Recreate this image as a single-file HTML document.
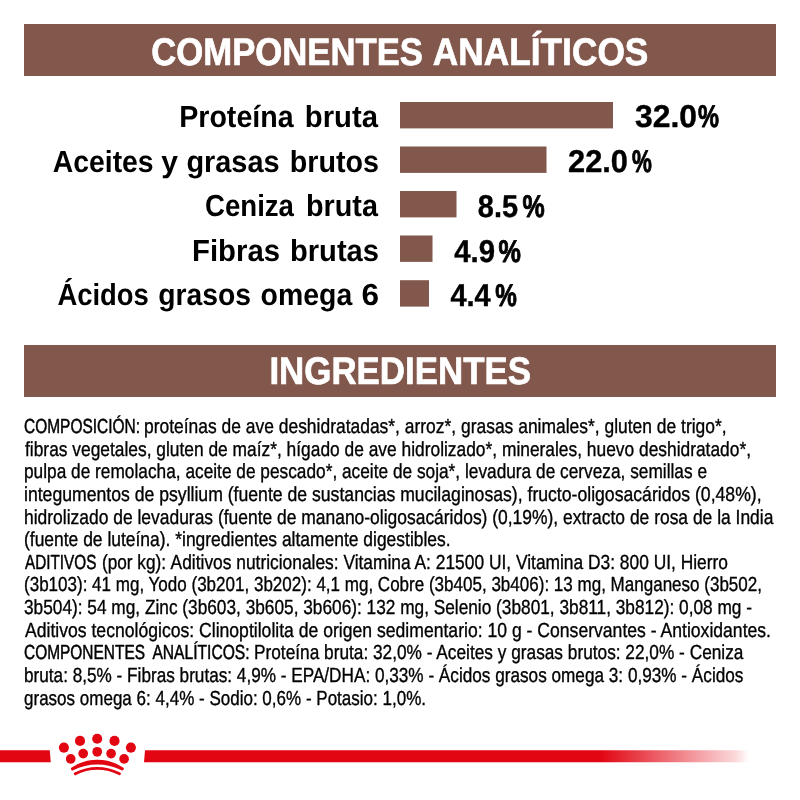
<!DOCTYPE html>
<html lang="es"><head><meta charset="utf-8"><title>Componentes analíticos</title>
<style>html,body{margin:0;padding:0;background:#fff;}body{width:800px;height:800px;overflow:hidden;font-family:"Liberation Sans",sans-serif;}svg{display:block;}text{text-rendering:geometricPrecision;}text{font-family:"Liberation Sans",sans-serif;}</style></head><body>
<svg width="800" height="800" viewBox="0 0 800 800">
<defs><filter id="noaa" x="0" y="0" width="800" height="800" filterUnits="userSpaceOnUse" color-interpolation-filters="sRGB"><feOffset dx="0" dy="0"/></filter><linearGradient id="fade" gradientUnits="userSpaceOnUse" x1="601" y1="0" x2="749" y2="0"><stop offset="0" stop-color="#e20613"/><stop offset="0.91" stop-color="#e20613" stop-opacity="0.15"/><stop offset="1" stop-color="#e20613" stop-opacity="0"/></linearGradient></defs>
<rect x="0" y="0" width="800" height="800" fill="#fff"/>
<rect x="24" y="24" width="752" height="52" fill="#82574c"/>
<rect x="24" y="345" width="752" height="52" fill="#82574c"/>
<rect x="400" y="102" width="213" height="26.4" fill="#82574c"/>
<rect x="400" y="146.5" width="146.5" height="26.4" fill="#82574c"/>
<rect x="400" y="191" width="56.5" height="26.4" fill="#82574c"/>
<rect x="400" y="235.5" width="32.5" height="26.4" fill="#82574c"/>
<rect x="400" y="280.2" width="29" height="26.4" fill="#82574c"/>
<g id="texts" filter="url(#noaa)">
<text id="h1a" x="151.20" y="64.70" font-size="38.5" font-weight="bold" fill="#fff" stroke="#fff" stroke-width="0.7" stroke-linejoin="round" textLength="271.82" lengthAdjust="spacingAndGlyphs">COMPONENTES</text>
<text id="h1b" x="432.79" y="64.70" font-size="38.5" font-weight="bold" fill="#fff" stroke="#fff" stroke-width="0.7" stroke-linejoin="round" textLength="215.61" lengthAdjust="spacingAndGlyphs">ANALÍTICOS</text>
<text id="h2" x="269.39" y="384.40" font-size="38.5" font-weight="bold" fill="#fff" stroke="#fff" stroke-width="0.7" stroke-linejoin="round" textLength="261.61" lengthAdjust="spacingAndGlyphs">INGREDIENTES</text>
<text id="l0_0" x="179.19" y="127.00" font-size="30.5" font-weight="bold" fill="#000" textLength="114.41" lengthAdjust="spacingAndGlyphs">Proteína</text>
<text id="l0_1" x="304.77" y="127.00" font-size="30.5" font-weight="bold" fill="#000" textLength="73.22" lengthAdjust="spacingAndGlyphs">bruta</text>
<text id="l1_0" x="52.78" y="171.60" font-size="30.5" font-weight="bold" fill="#000" textLength="100.84" lengthAdjust="spacingAndGlyphs">Aceites</text>
<text id="l1_1" x="161.36" y="171.60" font-size="30.5" font-weight="bold" fill="#000" textLength="16.71" lengthAdjust="spacingAndGlyphs">y</text>
<text id="l1_2" x="186.39" y="171.60" font-size="30.5" font-weight="bold" fill="#000" textLength="93.24" lengthAdjust="spacingAndGlyphs">grasas</text>
<text id="l1_3" x="289.75" y="171.60" font-size="30.5" font-weight="bold" fill="#000" textLength="89.25" lengthAdjust="spacingAndGlyphs">brutos</text>
<text id="l2_0" x="204.99" y="216.20" font-size="30.5" font-weight="bold" fill="#000" textLength="89.00" lengthAdjust="spacingAndGlyphs">Ceniza</text>
<text id="l2_1" x="305.98" y="216.20" font-size="30.5" font-weight="bold" fill="#000" textLength="72.01" lengthAdjust="spacingAndGlyphs">bruta</text>
<text id="l3_0" x="191.97" y="260.75" font-size="30.5" font-weight="bold" fill="#000" textLength="88.05" lengthAdjust="spacingAndGlyphs">Fibras</text>
<text id="l3_1" x="289.96" y="260.75" font-size="30.5" font-weight="bold" fill="#000" textLength="89.05" lengthAdjust="spacingAndGlyphs">brutas</text>
<text id="l4_0" x="57.39" y="305.30" font-size="30.5" font-weight="bold" fill="#000" textLength="91.44" lengthAdjust="spacingAndGlyphs">Ácidos</text>
<text id="l4_1" x="158.16" y="305.30" font-size="30.5" font-weight="bold" fill="#000" textLength="92.85" lengthAdjust="spacingAndGlyphs">grasos</text>
<text id="l4_2" x="260.60" y="305.30" font-size="30.5" font-weight="bold" fill="#000" textLength="91.60" lengthAdjust="spacingAndGlyphs">omega</text>
<text id="l4_3" x="361.52" y="305.30" font-size="30.5" font-weight="bold" fill="#000" textLength="17.57" lengthAdjust="spacingAndGlyphs">6</text>
<text id="v0_0" x="635.00" y="127.40" font-size="31.5" font-weight="bold" fill="#000" stroke="#000" stroke-width="0.4" stroke-linejoin="round" textLength="62.03" lengthAdjust="spacingAndGlyphs">32.0</text>
<text id="v0_1" x="698.00" y="127.40" font-size="31.5" font-weight="bold" fill="#000" stroke="#000" stroke-width="0.9" stroke-linejoin="round" textLength="21.00" lengthAdjust="spacingAndGlyphs">%</text>
<text id="v1_0" x="567.99" y="172.20" font-size="31.5" font-weight="bold" fill="#000" stroke="#000" stroke-width="0.4" stroke-linejoin="round" textLength="60.02" lengthAdjust="spacingAndGlyphs">22.0</text>
<text id="v1_1" x="631.96" y="172.20" font-size="31.5" font-weight="bold" fill="#000" stroke="#000" stroke-width="0.9" stroke-linejoin="round" textLength="19.86" lengthAdjust="spacingAndGlyphs">%</text>
<text id="v2_0" x="477.80" y="216.90" font-size="31.5" font-weight="bold" fill="#000" stroke="#000" stroke-width="0.4" stroke-linejoin="round" textLength="40.20" lengthAdjust="spacingAndGlyphs">8.5</text>
<text id="v2_1" x="522.40" y="216.90" font-size="31.5" font-weight="bold" fill="#000" stroke="#000" stroke-width="0.9" stroke-linejoin="round" textLength="22.21" lengthAdjust="spacingAndGlyphs">%</text>
<text id="v3_0" x="454.19" y="261.50" font-size="31.5" font-weight="bold" fill="#000" stroke="#000" stroke-width="0.4" stroke-linejoin="round" textLength="40.83" lengthAdjust="spacingAndGlyphs">4.9</text>
<text id="v3_1" x="498.60" y="261.50" font-size="31.5" font-weight="bold" fill="#000" stroke="#000" stroke-width="0.9" stroke-linejoin="round" textLength="22.40" lengthAdjust="spacingAndGlyphs">%</text>
<text id="v4_0" x="450.39" y="306.00" font-size="31.5" font-weight="bold" fill="#000" stroke="#000" stroke-width="0.4" stroke-linejoin="round" textLength="40.42" lengthAdjust="spacingAndGlyphs">4.4</text>
<text id="v4_1" x="495.20" y="306.00" font-size="31.5" font-weight="bold" fill="#000" stroke="#000" stroke-width="0.9" stroke-linejoin="round" textLength="21.60" lengthAdjust="spacingAndGlyphs">%</text>
<text id="p0_0" x="23.99" y="432.90" font-size="20.3" font-weight="normal" fill="#000" stroke="#000" stroke-width="0.5" stroke-linejoin="round" textLength="116.03" lengthAdjust="spacingAndGlyphs">COMPOSICIÓN:</text>
<text id="p0_1" x="144.00" y="432.90" font-size="20.3" font-weight="normal" fill="#000" stroke="#000" stroke-width="0.35" stroke-linejoin="round" textLength="582.61" lengthAdjust="spacingAndGlyphs">proteínas de ave deshidratadas*, arroz*, grasas animales*, gluten de trigo*,</text>
<text id="p1_0" x="25.00" y="455.55" font-size="20.3" font-weight="normal" fill="#000" stroke="#000" stroke-width="0.35" stroke-linejoin="round" textLength="726.00" lengthAdjust="spacingAndGlyphs">fibras vegetales, gluten de maíz*, hígado de ave hidrolizado*, minerales, huevo deshidratado*,</text>
<text id="p2_0" x="24.00" y="478.20" font-size="20.3" font-weight="normal" fill="#000" stroke="#000" stroke-width="0.35" stroke-linejoin="round" textLength="683.00" lengthAdjust="spacingAndGlyphs">pulpa de remolacha, aceite de pescado*, aceite de soja*, levadura de cerveza, semillas e</text>
<text id="p3_0" x="24.00" y="500.85" font-size="20.3" font-weight="normal" fill="#000" stroke="#000" stroke-width="0.35" stroke-linejoin="round" textLength="737.60" lengthAdjust="spacingAndGlyphs">integumentos de psyllium (fuente de sustancias mucilaginosas), fructo-oligosacáridos (0,48%),</text>
<text id="p4_0" x="24.00" y="523.50" font-size="20.3" font-weight="normal" fill="#000" stroke="#000" stroke-width="0.35" stroke-linejoin="round" textLength="749.40" lengthAdjust="spacingAndGlyphs">hidrolizado de levaduras (fuente de manano-oligosacáridos) (0,19%), extracto de rosa de la India</text>
<text id="p5_0" x="24.00" y="546.15" font-size="20.3" font-weight="normal" fill="#000" stroke="#000" stroke-width="0.35" stroke-linejoin="round" textLength="426.61" lengthAdjust="spacingAndGlyphs">(fuente de luteína). *ingredientes altamente digestibles.</text>
<text id="p6_0" x="25.00" y="568.80" font-size="20.3" font-weight="normal" fill="#000" stroke="#000" stroke-width="0.5" stroke-linejoin="round" textLength="71.40" lengthAdjust="spacingAndGlyphs">ADITIVOS</text>
<text id="p6_1" x="101.97" y="568.80" font-size="20.3" font-weight="normal" fill="#000" stroke="#000" stroke-width="0.35" stroke-linejoin="round" textLength="64.07" lengthAdjust="spacingAndGlyphs">(por kg):</text>
<text id="p6_2" x="170.60" y="568.80" font-size="20.3" font-weight="normal" fill="#000" stroke="#000" stroke-width="0.35" stroke-linejoin="round" textLength="557.40" lengthAdjust="spacingAndGlyphs">Aditivos nutricionales: Vitamina A: 21500 UI, Vitamina D3: 800 UI, Hierro</text>
<text id="p7_0" x="24.00" y="591.45" font-size="20.3" font-weight="normal" fill="#000" stroke="#000" stroke-width="0.35" stroke-linejoin="round" textLength="738.00" lengthAdjust="spacingAndGlyphs">(3b103): 41 mg, Yodo (3b201, 3b202): 4,1 mg, Cobre (3b405, 3b406): 13 mg, Manganeso (3b502,</text>
<text id="p8_0" x="24.00" y="614.10" font-size="20.3" font-weight="normal" fill="#000" stroke="#000" stroke-width="0.35" stroke-linejoin="round" textLength="728.00" lengthAdjust="spacingAndGlyphs">3b504): 54 mg, Zinc (3b603, 3b605, 3b606): 132 mg, Selenio (3b801, 3b811, 3b812): 0,08 mg -</text>
<text id="p9_0" x="25.00" y="636.75" font-size="20.3" font-weight="normal" fill="#000" stroke="#000" stroke-width="0.35" stroke-linejoin="round" textLength="746.00" lengthAdjust="spacingAndGlyphs">Aditivos tecnológicos: Clinoptilolita de origen sedimentario: 10 g - Conservantes - Antioxidantes.</text>
<text id="p10_0" x="24.00" y="659.40" font-size="20.3" font-weight="normal" fill="#000" stroke="#000" stroke-width="0.5" stroke-linejoin="round" textLength="121.00" lengthAdjust="spacingAndGlyphs">COMPONENTES</text>
<text id="p10_1" x="152.40" y="659.40" font-size="20.3" font-weight="normal" fill="#000" stroke="#000" stroke-width="0.5" stroke-linejoin="round" textLength="97.21" lengthAdjust="spacingAndGlyphs">ANALÍTICOS:</text>
<text id="p10_2" x="254.00" y="659.40" font-size="20.3" font-weight="normal" fill="#000" stroke="#000" stroke-width="0.35" stroke-linejoin="round" textLength="489.40" lengthAdjust="spacingAndGlyphs">Proteína bruta: 32,0% - Aceites y grasas brutos: 22,0% - Ceniza</text>
<text id="p11_0" x="24.00" y="682.05" font-size="20.3" font-weight="normal" fill="#000" stroke="#000" stroke-width="0.35" stroke-linejoin="round" textLength="719.40" lengthAdjust="spacingAndGlyphs">bruta: 8,5% - Fibras brutas: 4,9% - EPA/DHA: 0,33% - Ácidos grasos omega 3: 0,93% - Ácidos</text>
<text id="p12_0" x="24.00" y="704.70" font-size="20.3" font-weight="normal" fill="#000" stroke="#000" stroke-width="0.35" stroke-linejoin="round" textLength="402.01" lengthAdjust="spacingAndGlyphs">grasos omega 6: 4,4% - Sodio: 0,6% - Potasio: 1,0%.</text>
</g>
<polygon points="0,750.25 49.75,750.25 50.75,762.25 0,762.25" fill="#e20613"/>
<polygon points="145,750.25 760,750.25 760,762.25 144,762.25" fill="url(#fade)"/>
<circle cx="63.9" cy="747.6" r="5.05" fill="#e20613"/>
<circle cx="80.0" cy="740.9" r="5.05" fill="#e20613"/>
<circle cx="97.2" cy="738.8" r="5.05" fill="#e20613"/>
<circle cx="114.5" cy="740.9" r="5.05" fill="#e20613"/>
<circle cx="130.9" cy="747.6" r="5.05" fill="#e20613"/>
<circle cx="70.7" cy="758.9" r="4.85" fill="#e20613"/>
<circle cx="83.2" cy="753.6" r="4.85" fill="#e20613"/>
<circle cx="97.2" cy="751.8" r="4.85" fill="#e20613"/>
<circle cx="111.1" cy="753.6" r="4.85" fill="#e20613"/>
<circle cx="124.1" cy="758.9" r="4.85" fill="#e20613"/>
<path d="M72.5,768.8 A44.5,44.5 0 0 1 122.2,768.8 A55,55 0 0 0 72.5,768.8 Z" fill="#e20613" stroke="#e20613" stroke-width="3.1" stroke-linejoin="round"/>
<path d="M75.2,773.8 A47,47 0 0 1 119.5,773.8" fill="none" stroke="#e20613" stroke-width="2.75" stroke-linecap="round"/>
</svg></body></html>
